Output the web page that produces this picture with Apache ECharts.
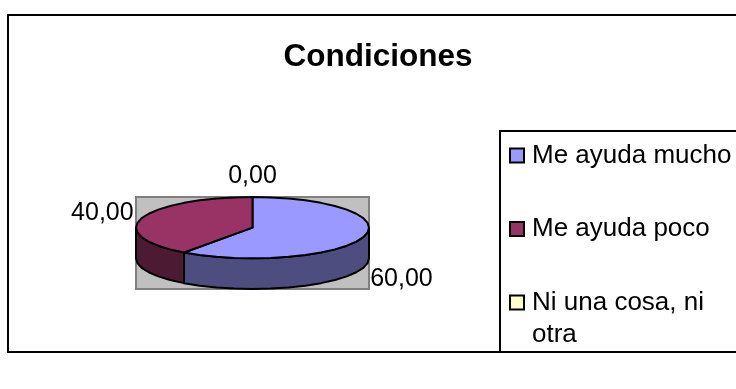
<!DOCTYPE html>
<html>
<head>
<meta charset="utf-8">
<style>html,body{margin:0;padding:0;background:#fff}#chart{width:736px;height:389px}</style>
<script src="https://cdn.jsdelivr.net/npm/echarts@6/dist/echarts.min.js"></script>
</head>
<body>
<div id="chart"></div>
<script>
// Survey answers, in percent
const categories = ['Me ayuda mucho', 'Me ayuda poco', 'Ni una cosa, ni\notra'];
const values = [60, 40, 0];
const topColors = ['#9999ff', '#993366', '#ffffcc'];
const wallColors = ['#4d4d80', '#4d1a33', '#80806a'];

// Label anchors in axis units (x: disc radii, y: disc radii above centre)
const labelAnchorX = [1.01, -1.02, 0];
const labelAnchorY = [-1.67, 0.49, 1.69];
const labelAlign = ['left', 'right', 'center'];

const total = values.reduce((a, b) => a + b, 0);
const WALL = 1;      // disc thickness in axis units
const STEP = 9;      // degrees per outline segment

const comma = v => v.toFixed(2).replace('.', ',');

// A point on the disc rim; angle runs clockwise from twelve o'clock
const rim = (deg, drop) => {
  const r = deg * Math.PI / 180;
  return [Math.sin(r), Math.cos(r) - (drop || 0)];
};

function arcAngles(from, to) {
  const list = [];
  for (let a = from; a < to; a += STEP) list.push(a);
  list.push(to);
  return list;
}

function sliceRenderer(index) {
  return function (params, api) {
    const before = values.slice(0, index).reduce((a, b) => a + b, 0);
    const from = before / total * 360;
    const to = from + values[index] / total * 360;
    const style = { stroke: '#000', lineWidth: 2, lineJoin: 'round' };
    const px = p => api.coord(p);
    const children = [];

    // Visible side wall: only the part of the rim facing the viewer (90deg to 270deg)
    const wallFrom = Math.max(from, 90);
    const wallTo = Math.min(to, 270);
    if (wallTo > wallFrom) {
      const angles = arcAngles(wallFrom, wallTo);
      const upper = angles.map(a => px(rim(a, 0)));
      const lower = angles.slice().reverse().map(a => px(rim(a, WALL)));
      children.push({
        type: 'polygon',
        shape: { points: upper.concat(lower) },
        style: Object.assign({ fill: wallColors[index] }, style)
      });
    }
    // Top face of the slice
    if (to > from) {
      const pts = [px([0, 0])].concat(arcAngles(from, to).map(a => px(rim(a, 0))));
      children.push({
        type: 'polygon',
        shape: { points: pts },
        style: Object.assign({ fill: topColors[index] }, style)
      });
    }
    // Value label
    const at = px([labelAnchorX[index], labelAnchorY[index]]);
    children.push({
      type: 'text',
      z2: 10,
      style: {
        x: at[0], y: at[1],
        text: comma(api.value(0)),
        align: labelAlign[index],
        verticalAlign: 'middle',
        fill: '#000',
        font: '25px "Liberation Sans", Arial, sans-serif'
      }
    });
    return { type: 'group', children };
  };
}

const chart = echarts.init(document.getElementById('chart'), null, { renderer: 'canvas' });
chart.setOption({
  animation: false,
  backgroundColor: '#fff',
  title: {
    text: 'Condiciones',
    left: 373,
    top: 36,
    textAlign: 'center',
    textStyle: { fontFamily: '"Liberation Sans", Arial, sans-serif', fontWeight: 'bold', fontSize: 31.5, color: '#000' }
  },
  // Outer chart frame, running off the right edge
  graphic: [{
    type: 'rect', z: -1, silent: true,
    shape: { x: 8, y: 15, width: 800, height: 337 },
    style: { fill: '#fff', stroke: '#000', lineWidth: 2 }
  }],
  grid: {
    left: 136, top: 197, width: 233, height: 92,
    show: true, backgroundColor: '#c0c0c0', borderColor: '#808080', borderWidth: 2
  },
  xAxis: { type: 'value', min: -1, max: 1, show: false },
  yAxis: { type: 'value', min: -2, max: 1, show: false },
  legend: {
    orient: 'vertical',
    left: 500, top: 131, height: 400,
    padding: [-23.5, 40, 1.5, 9],
    itemWidth: 14, itemHeight: 14, itemGap: -22.5,
    icon: 'rect',
    backgroundColor: '#fff',
    borderColor: '#000', borderWidth: 2,
    textStyle: { fontFamily: '"Liberation Sans", Arial, sans-serif', fontSize: 26, color: '#000', lineHeight: 32, padding: [0, 0, 0, 3] },
    // Every entry is three lines tall so each marker sits level with its first line of text
    formatter: name => (name.includes('\n') ? '\n' + name : '\n' + name + '\n'),
    data: categories
  },
  series: categories.map((name, i) => ({
    type: 'custom',
    name,
    coordinateSystem: 'cartesian2d',
    clip: false,
    silent: true,
    itemStyle: { color: topColors[i], borderColor: '#000', borderWidth: 1.5 },
    encode: { x: 0 },
    data: [[values[i]]],
    renderItem: sliceRenderer(i)
  }))
});
</script>
</body>
</html>
